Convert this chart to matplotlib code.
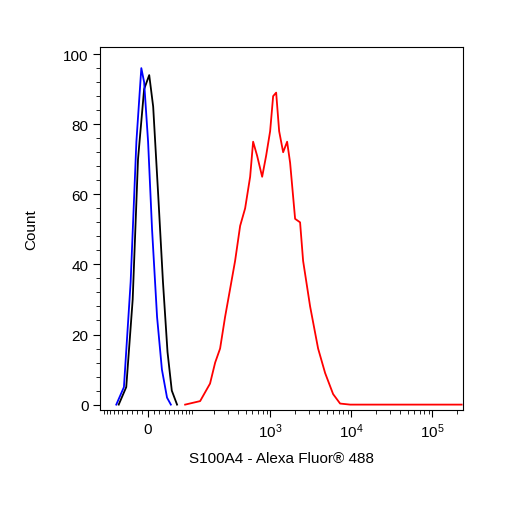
import matplotlib
matplotlib.use("Agg")
import matplotlib.pyplot as plt
import numpy as np

plt.rcParams['font.family'] = ['Liberation Sans', 'DejaVu Sans']
plt.rcParams['mathtext.fontset'] = 'custom'
plt.rcParams['mathtext.rm'] = 'Liberation Sans'

red_x = [78,129,175,204,236,273,316,365,422,487,562,612,686,792,887,994,1083,1180,1285,1440,1612,1755,2023,2330,2540,3100,3890,4750,5960,7270,9690,30000,100000,230000]
red_y = [0,1,6,12,16,25,33,41,51,56,65,75,71,65,71,78,88,89,78,72,75,69,53,52,41,28,16,9,3,0.3,0,0,0,0]
black_x = [-58,-41,-28,-18,-7,2,9,18,27,36,45,57]
black_y = [0,5,30,70,90,94,85,60,35,15,4,0]
blue_x = [-64,-46,-32,-21,-12,-7,0,7,16,25,35,43]
blue_y = [0,5,35,75,96,92,75,50,25,10,2,0]

fig = plt.figure(figsize=(5.06,5.06), dpi=100)
ax = fig.add_axes([0.198,0.188,0.717,0.717])
ax.set_xscale('asinh', linear_width=62)
ax.plot(red_x, red_y, color='#ff0000', lw=1.3)
ax.plot(black_x, black_y, color='black', lw=1.3)
ax.plot(blue_x, blue_y, color='#0000ff', lw=1.3)
ax.set_xlim(-113, 2.39e5)
ax.set_ylim(-1.5, 102)
ax.set_xticks([0,1e3,1e4,1e5])
ax.set_xticklabels(['0','$\\mathregular{10^3}$','$\\mathregular{10^4}$','$\\mathregular{10^5}$'])
minors = [-v for v in [10,20,30,40,50,60,70,80,90,100]] + [10,20,30,40,50,60,70,80,90] + \
    [m*10**k for k in [2,3,4,5] for m in range(1,10) if m*10**k < 2.39e5 and m*10**k not in (1e3,1e4,1e5)]
ax.set_xticks(minors, minor=True)
ax.set_yticks([0,20,40,60,80,100])
ax.set_yticks(np.arange(0,101,4), minor=True)
ax.tick_params(which='both', direction='out', labelsize=11)
ax.tick_params(which='minor', length=3)
ax.tick_params(which='major', length=5)
ax.set_xlabel('S100A4 - Alexa Fluor® 488', fontsize=11, labelpad=8)
ax.set_ylabel('Count', fontsize=11, labelpad=18)
fig.savefig('out.png', dpi=100)
